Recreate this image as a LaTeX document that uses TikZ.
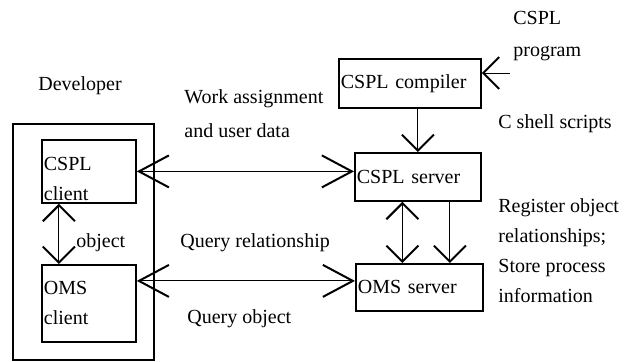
\documentclass[tikz,border=0pt]{standalone}
\usepackage{fontspec}
\setmainfont{Liberation Serif}
\usetikzlibrary{arrows.meta}

\begin{document}
\begin{tikzpicture}[
        x=0.5pt, y=-0.5pt,
        font=\fontsize{10}{15}\selectfont,
        unit/.style={draw, line width=0.9pt, inner xsep=1pt, inner ysep=0pt, align=left, anchor=north west},
        frame/.style={draw, line width=0.9pt, anchor=north west, inner sep=0pt},
        label/.style={inner sep=0pt, anchor=base west, align=left},
        link/.style={{Straight Barb[length=15pt, width=16pt, line width=1pt]}-{Straight Barb[length=15pt, width=16pt, line width=1pt]}, line width=0.5pt},
        flow/.style={-{Straight Barb[length=8pt, width=16pt, line width=1pt]}, line width=0.5pt},
        both/.style={{Straight Barb[length=8pt, width=16pt, line width=1pt]}-{Straight Barb[length=8pt, width=16pt, line width=1pt]}, line width=0.5pt}
    ]
        \useasboundingbox (0,0) rectangle (626,361);

        % Developer side
        \node[label] (dev) at (38,90) {Developer};
        \node[frame, minimum width=70.5pt, minimum height=118pt] (devbox) at (12,123) {};
        \node[unit, text width=45pt, minimum height=31.5pt] (cclient) at (41,139) {\rule{0pt}{14pt}CSPL\\client};
        \node[unit, text width=45pt, minimum height=38.5pt] (oclient) at (41,264) {OMS\\client};

        % Server side
        \node[unit, text width=69pt, minimum height=24.5pt] (compiler) at (338,58) {CSPL compiler};
        \node[unit, text width=61pt, minimum height=24pt] (cserver) at (354,152) {CSPL server};
        \node[unit, text width=61.5pt, minimum height=23.5pt] (oserver) at (355,263) {OMS server};

        % Labels (multi-line ones sit on their last line)
        \node[label, font=\fontsize{10}{17}\selectfont] (work) at (184,137) {Work assignment\\and user data};
        \node[label] (obj) at (76,247) {object};
        \node[label] (qrel) at (180,247) {Query relationship};
        \node[label] (qobj) at (187,323) {Query object};
        \node[label, font=\fontsize{10}{16}\selectfont] (prog) at (513,56) {CSPL\\program};
        \node[label] (shell) at (498,128) {C shell scripts};
        \node[label] (reg) at (498,302) {Register object\\relationships;\\Store process\\information};

        % Connectors
        \coordinate (src) at (510,73);
        \draw[flow] (src) -- (src -| compiler.east);
        \draw[flow] (cserver.north |- compiler.south) -- (cserver.north);
        \draw[link] (cclient.east) -- (cclient.east -| cserver.west);
        \draw[link] ([yshift=3.25pt]oserver.west -| oclient.east) -- ([yshift=3.25pt]oserver.west);
        \draw[both] ([xshift=-15pt]cclient.south) -- ([xshift=-15pt]cclient.south |- oclient.north);
        \draw[both] ([xshift=-7.75pt]cserver.south) -- ([xshift=-7.75pt]cserver.south |- oserver.north);
        \draw[flow] ([xshift=16pt]cserver.south) -- ([xshift=16pt]cserver.south |- oserver.north);
    \end{tikzpicture}
\end{document}
